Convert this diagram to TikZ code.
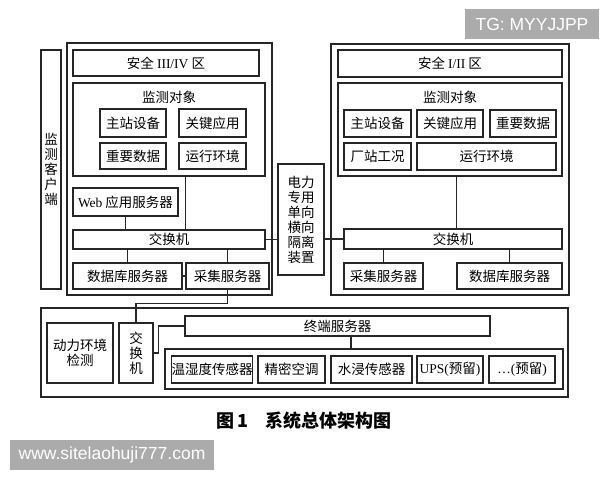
\documentclass[tikz,border=0pt]{standalone}
\usepackage{fontspec}
\setmainfont{Liberation Serif}
\setsansfont{Liberation Sans}
\newfontfamily\zh{Noto Sans CJK SC}
\newcommand\mybox[6]{\node[bx,minimum width={(#4-#2)*1pt},minimum height={(#5-#3)*1pt}] (#1) at ({(#2+#4)/2},{(#3+#5)/2}) {#6};}
\begin{document}
\begin{tikzpicture}[x=1pt,y=-1pt,
 bx/.style={draw=black!85, line width=1.1pt, inner sep=0pt, align=center, font=\zh\fontsize{13.5}{15}\selectfont},
 lbl/.style={inner sep=0pt, align=center, font=\zh\fontsize{13.5}{15}\selectfont},
 ln/.style={draw=black!85, line width=1.1pt},
 wm/.style={fill=black!33, inner sep=0pt, text=white, font=\sffamily\fontsize{17.5}{20}\selectfont}]
\useasboundingbox (0,0) rectangle (600,480);
% left client
\mybox{lcli}{41}{50}{61}{289}{\fontsize{13.5}{13.8}\selectfont 监\\测\\客\\户\\端}
% left zone
\mybox{lzone}{67}{43}{272}{295}{}
\mybox{ltitle}{73}{50}{259}{76}{安全 {\rmfamily III/IV} 区}
\mybox{lmon}{73}{83}{265}{176}{}
\node[lbl] (lmonlbl) at (169,97) {监测对象};
\mybox{lzz}{100}{109}{166}{137}{主站设备}
\mybox{lgj}{179}{109}{246}{137}{关键应用}
\mybox{lzy}{100}{143}{166}{169}{重要数据}
\mybox{lyx}{179}{143}{246}{169}{运行环境}
\mybox{lweb}{73}{188}{178}{216}{{\rmfamily Web} 应用服务器}
\mybox{lsw}{73}{230}{265}{249}{交换机}
\mybox{ldb}{73}{263}{182}{289}{数据库服务器}
\mybox{lcj}{186}{263}{269}{289}{采集服务器}
% isolation
\mybox{iso}{278}{164}{324}{275}{\fontsize{13.5}{17}\selectfont 电力\\专用\\单向\\横向\\隔离\\装置}
% right zone
\mybox{rzone}{331}{44}{569}{295}{}
\mybox{rtitle}{338}{50}{562}{77}{安全 {\rmfamily I/II} 区}
\mybox{rmon}{338}{83}{562}{176}{}
\node[lbl] (rmonlbl) at (450,97) {监测对象};
\mybox{rzz}{344}{110}{411}{137}{主站设备}
\mybox{rgj}{417}{110}{483}{137}{关键应用}
\mybox{rzy}{490}{110}{556}{137}{重要数据}
\mybox{rcz}{344}{143}{411}{170}{厂站工况}
\mybox{ryx}{417}{143}{556}{170}{运行环境}
\mybox{rsw}{344}{229}{562}{249}{交换机}
\mybox{rcj}{344}{263}{423}{289}{采集服务器}
\mybox{rdb}{457}{263}{562}{289}{数据库服务器}
% bottom
\mybox{bzone}{41}{308}{568}{397}{}
\mybox{benv}{47}{323}{113}{383}{\fontsize{13.5}{16}\selectfont 动力环境\\检测}
\mybox{bsw}{119}{323}{153}{383}{\fontsize{13.5}{16}\selectfont 交\\换\\机}
\mybox{term}{185}{316}{490}{336}{终端服务器}
\mybox{scont}{165}{349}{563}{389}{}
\mybox{sa}{172}{356}{252}{383}{温湿度传感器}
\mybox{sb}{258}{356}{325}{383}{精密空调}
\mybox{sc}{331}{356}{412}{383}{水浸传感器}
\mybox{sd}{417}{356}{483}{383}{{\rmfamily UPS(}预留{\rmfamily )}}
\mybox{se}{489}{356}{555}{383}{{\rmfamily …(}预留{\rmfamily )}}
% connectors
\draw[ln] (lweb.south) -- (lweb.south |- lsw.north);
\draw[ln] (lmon.south -| lcj.west) -- (lsw.north -| lcj.west);
\draw[ln] (ldb.north) -- (ldb.north |- lsw.south);
\draw[ln] (lcj.north) -- (lcj.north |- lsw.south);
\draw[ln] (ldb.east) -- (lcj.west);
\draw[ln] (lcj.south) -- ++(0,14) -| (bsw.north);
\draw[ln] (lsw.east) -- (lsw.east -| iso.west);
\draw[ln] (iso.east |- rsw.west) -- (rsw.west);
\draw[ln] (rmon.south -| rdb.west) -- (rsw.north -| rdb.west);
\draw[ln] (rcj.north) -- (rcj.north |- rsw.south);
\draw[ln] (rdb.north) -- (rdb.north |- rsw.south);
\draw[ln] (bsw.east) -- ++(5,0) |- (term.west);
\draw[ln] ([xshift=13.5pt]term.south) -- ([xshift=13.5pt]term.south |- scont.north);
% caption
\node[inner sep=0pt, font=\zh\bfseries\fontsize{18}{20}\selectfont] (cap) at (304,421) {图\,1\quad 系统总体架构图};
% watermarks
\node[wm, minimum width=134pt, minimum height=30pt] (wma) at (532,24) {TG: MYYJJPP};
\node[wm, minimum width=204pt, minimum height=30pt] (wmb) at (112,455) {www.sitelaohuji777.com};
\end{tikzpicture}
\end{document}
